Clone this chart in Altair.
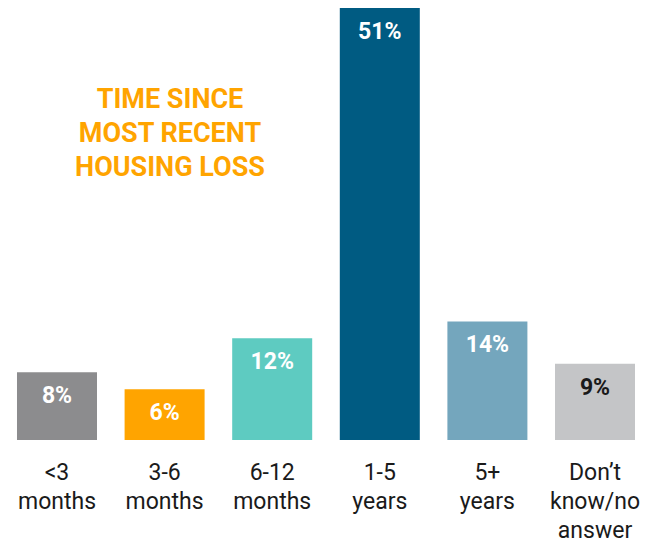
import altair as alt
import pandas as pd

categories = ["<3 months", "3-6 months", "6-12 months", "1-5 years", "5+ years", "Don’t know/no answer"]
label_lines = [["<3", "months"], ["3-6", "months"], ["6-12", "months"], ["1-5", "years"], ["5+", "years"], ["Don’t", "know/no", "answer"]]
values = [8, 6, 12, 51, 14, 9]
bar_colors = ["#8c8c8e", "#ffa400", "#5ecbc1", "#005b82", "#74a6bd", "#c4c5c7"]
title_lines = ["TIME SINCE", "MOST RECENT", "HOUSING LOSS"]

df = pd.DataFrame({"category": categories, "value": values})
df["label"] = df["value"].astype(str) + "%"

# build label expression mapping category -> lines
parts = []
for c, lines in zip(categories, label_lines):
    arr = "[" + ",".join("'" + l + "'" for l in lines) + "]"
    parts.append(f"datum.label == '{c}' ? {arr}")
label_expr = " : ".join(parts) + " : datum.label"

FONT = "Roboto"

x = alt.X("category:N", sort=categories,
          scale=alt.Scale(paddingInner=0.2565, paddingOuter=0.0836),
          axis=alt.Axis(title=None, labelAngle=0, domain=False, ticks=False, grid=False,
                        labelFont=FONT, labelFontSize=23, labelColor="#1a1a1a",
                        labelLineHeight=29, labelPadding=21, labelExpr=label_expr,
                        labelLimit=200))
y = alt.Y("value:Q", scale=alt.Scale(domain=[0, 51], nice=False, zero=True), axis=None)

base = alt.Chart(df)

bars = base.mark_bar().encode(
    x=x, y=y,
    color=alt.Color("category:N", scale=alt.Scale(domain=categories, range=bar_colors), legend=None),
)

texts = base.mark_text(baseline="middle", dy=24, font=FONT, fontSize=23, fontWeight="bold").encode(
    x=x, y=y, text="label:N",
    color=alt.condition(alt.datum.category == categories[-1], alt.value("#1a1a1a"), alt.value("white")),
)

title = alt.Chart(pd.DataFrame({"t": [title_lines]})).mark_text(
    font=FONT, fontSize=27, fontWeight="bold", color="#ffa400", lineHeight=34,
    align="center", baseline="middle"
).encode(x=alt.value(162), y=alt.value(92), text="t")

chart = alt.layer(bars, texts, title).properties(
    width=636, height=432,
    padding={"left": 0, "top": 0, "right": 0, "bottom": 0},
).configure_view(stroke=None)

chart.save("out.html", embed_options={"renderer": "svg", "actions": False})
